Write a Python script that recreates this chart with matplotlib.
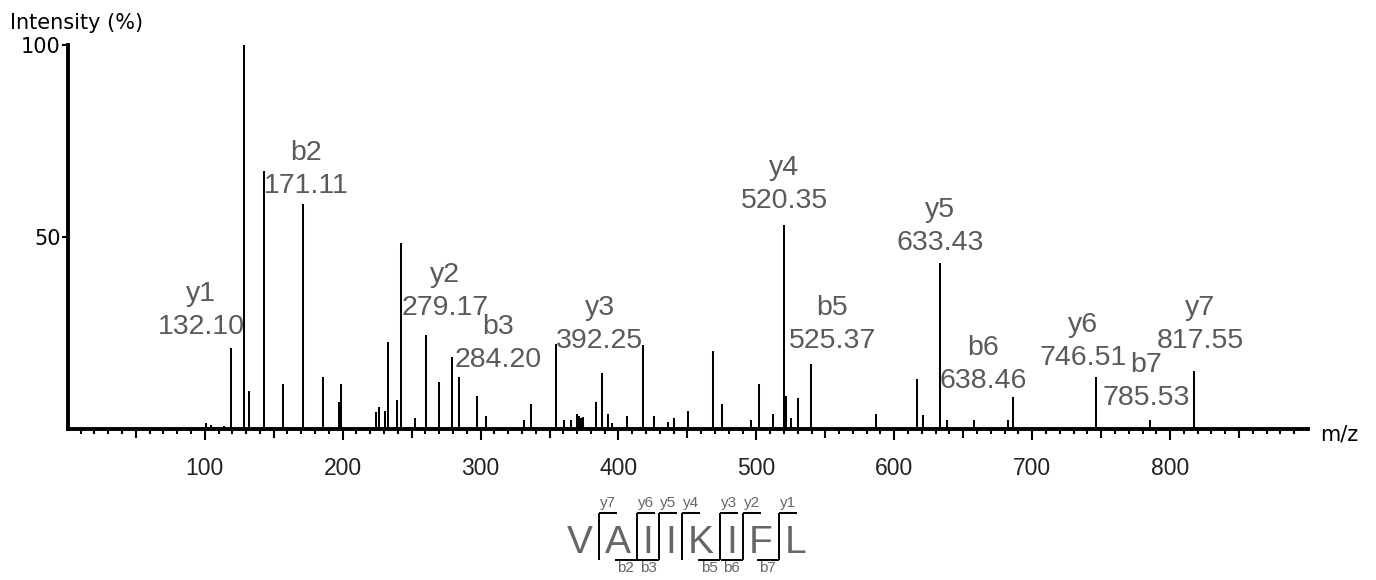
import matplotlib
matplotlib.use("Agg")
import matplotlib.pyplot as plt
from matplotlib.ticker import FixedLocator

# ---- spectrum: m/z and relative intensity (%) ----
peak_mz = [100.9, 104.4, 114.0, 119.0, 128.8, 132.10, 143.2, 156.6, 171.11,
           185.6, 197.4, 198.8, 224.2, 226.2, 231.0, 232.9, 239.2, 242.6,
           252.5, 260.3, 270.1, 279.17, 284.20, 297.7, 304.2, 331.8, 336.8,
           354.5, 360.8, 365.6, 369.8, 370.7, 371.6, 372.9, 374.1, 383.8,
           388.3, 392.25, 395.4, 406.5, 418.1, 426.0, 435.8, 440.5, 450.7,
           468.4, 474.9, 495.9, 502.2, 512.3, 520.35, 521.4, 525.37, 530.0,
           539.7, 586.8, 616.3, 621.1, 633.43, 638.46, 658.1, 682.7, 686.0,
           746.51, 785.53, 817.55]
peak_int = [1.5, 0.8, 0.6, 20.9, 100.0, 9.9, 67.2, 11.6, 58.5,
            13.3, 7.0, 11.6, 4.4, 5.7, 4.5, 22.6, 7.4, 48.3,
            2.7, 24.4, 12.2, 18.7, 13.3, 8.6, 3.3, 2.2, 6.3,
            22.0, 2.2, 2.2, 3.7, 2.8, 3.3, 2.8, 3.0, 6.8,
            14.5, 3.7, 1.5, 3.2, 21.9, 3.3, 1.7, 2.8, 4.5,
            20.3, 6.3, 2.2, 11.6, 3.9, 53.1, 8.5, 2.8, 8.0,
            16.8, 3.9, 12.8, 3.5, 43.2, 2.2, 2.2, 2.2, 8.1,
            13.3, 2.2, 15.1]

# ---- assigned fragment ions ----
ion_names = ["y1", "b2", "y2", "b3", "y3", "y4", "b5", "y5", "b6", "y6", "b7", "y7"]
ion_mz = [132.10, 171.11, 279.17, 284.20, 392.25, 520.35, 525.37, 633.43,
          638.46, 746.51, 785.53, 817.55]

# label placement relative to the peak top (pixels)
label_dx = [-48, 3, -7, 39, -8, 0, 41, 0, 36, -13, -4, 6]
label_dy = [57, 11, 42, 10, 66, 17, 70, 13, 32, 12, 15, 23]

peptide = "VAIIKIFL"

x_major = [100, 200, 300, 400, 500, 600, 700, 800]
y_major = [50, 100]

W, H = 1376, 580
fig = plt.figure(figsize=(W / 100, H / 100), dpi=100)
fig.patch.set_facecolor("white")

ax_left, ax_right = 68.2, 1308.0
ax_bottom, ax_top = 428.5, 45.0
ax = fig.add_axes([ax_left / W, (H - ax_bottom) / H,
                   (ax_right - ax_left) / W, (ax_bottom - ax_top) / H])
ax.set_xlim(1, 900)
ax.set_ylim(0, 100)
ax.patch.set_visible(False)

ax.vlines(peak_mz, 0, peak_int, colors="black", linewidth=1.45, zorder=2)

for s in ("top", "right"):
    ax.spines[s].set_visible(False)
for s in ("left", "bottom"):
    ax.spines[s].set_linewidth(2.8)
    ax.spines[s].set_zorder(3)

ax.xaxis.set_major_locator(FixedLocator(x_major))
ax.set_xticklabels([str(v) for v in x_major])
tens = [v for v in range(10, 900, 10) if v % 50 != 0]
ax.xaxis.set_minor_locator(FixedLocator(tens))
ax.tick_params(axis="x", which="major", direction="out", length=8.2, width=1.5,
               pad=12, labelsize=16.5, labelcolor="#222222")
ax.tick_params(axis="x", which="minor", direction="out", length=3.4, width=1.5)
for lab in ax.get_xticklabels():
    lab.set_fontfamily("Liberation Sans")

# intermediate ticks at the 50s
sec = ax.secondary_xaxis("bottom")
sec.set_xticks([v for v in range(50, 900, 100)])
sec.tick_params(axis="x", direction="out", length=6.2, width=1.5, labelbottom=False)
sec.spines["bottom"].set_visible(False)

ax.yaxis.set_major_locator(FixedLocator(y_major))
ax.set_yticklabels([str(v) for v in y_major])
ax.tick_params(axis="y", which="major", direction="out", length=4.5, width=1.5,
               pad=1, labelsize=15, labelcolor="black")
for lab in ax.get_yticklabels():
    lab.set_fontfamily("DejaVu Sans")

# fragment annotations
lab_color = "#5a5a5a"
for name, m, dx, dy in zip(ion_names, ion_mz, label_dx, label_dy):
    inten = peak_int[peak_mz.index(m)]
    ax.annotate(f"{m:.2f}", xy=(m, inten), xytext=(dx, dy), textcoords="offset pixels",
                ha="center", va="baseline", fontsize=20.5, color=lab_color,
                family="Liberation Sans", zorder=4)
    ax.annotate(name, xy=(m, inten), xytext=(dx, dy + 33), textcoords="offset pixels",
                ha="center", va="baseline", fontsize=20.5, color=lab_color,
                family="Liberation Sans", zorder=4)

# overlay in pixel units for free text and the sequence map
ov = fig.add_axes([0, 0, 1, 1])
ov.set_xlim(0, W)
ov.set_ylim(H, 0)
ov.axis("off")
ov.patch.set_visible(False)

ov.text(10, 23, "Intensity (%)", fontsize=15, family="DejaVu Sans",
        ha="left", va="center", color="black")
ov.text(1320, 434, "m/z", fontsize=15, family="DejaVu Sans",
        ha="left", va="center", color="black")

# ---- peptide sequence with observed b / y cleavages ----
n = len(peptide)
b_seen = {int(s[1:]) for s in ion_names if s[0] == "b"}
y_seen = {int(s[1:]) for s in ion_names if s[0] == "y"}

renderer = fig.canvas.get_renderer()
seq_kw = dict(fontsize=28, family="Liberation Sans", color="#666666", va="baseline", ha="left")
base_y = 553
letters = []
widths = []
for r in peptide:
    t = ov.text(0, base_y, r, **seq_kw)
    letters.append(t)
    widths.append(t.get_window_extent(renderer).width)

gap = 6.0
cursor = 0.0
lefts, breaks = [], []
for i in range(n):
    lefts.append(cursor)
    cursor += widths[i]
    k = i + 1
    if k < n and (k in b_seen or (n - k) in y_seen):
        cursor += gap
        breaks.append((k, cursor))
        cursor += gap
total = cursor
shift = 686.5 - total / 2

for t, lx in zip(letters, lefts):
    t.set_x(lx + shift)

top_y, bot_y = 512.5, 560.0
arm_top, arm_bot = 18, 22
small_kw = dict(fontsize=11, family="Liberation Sans", color="#666666", ha="center")
for k, bx in breaks:
    x = bx + shift
    ov.plot([x, x], [top_y, bot_y], color="black", lw=1.4, solid_capstyle="butt")
    if (n - k) in y_seen:
        ov.plot([x, x + arm_top], [top_y, top_y], color="black", lw=1.4, solid_capstyle="butt")
        ov.text(x + arm_top / 2, 507, f"y{n - k}", va="baseline", **small_kw)
    if k in b_seen:
        ov.plot([x - arm_bot, x], [bot_y, bot_y], color="black", lw=1.4, solid_capstyle="butt")
        ov.text(x - arm_bot / 2, 572, f"b{k}", va="baseline", **small_kw)

fig.savefig("out.png", dpi=100, facecolor="white")
